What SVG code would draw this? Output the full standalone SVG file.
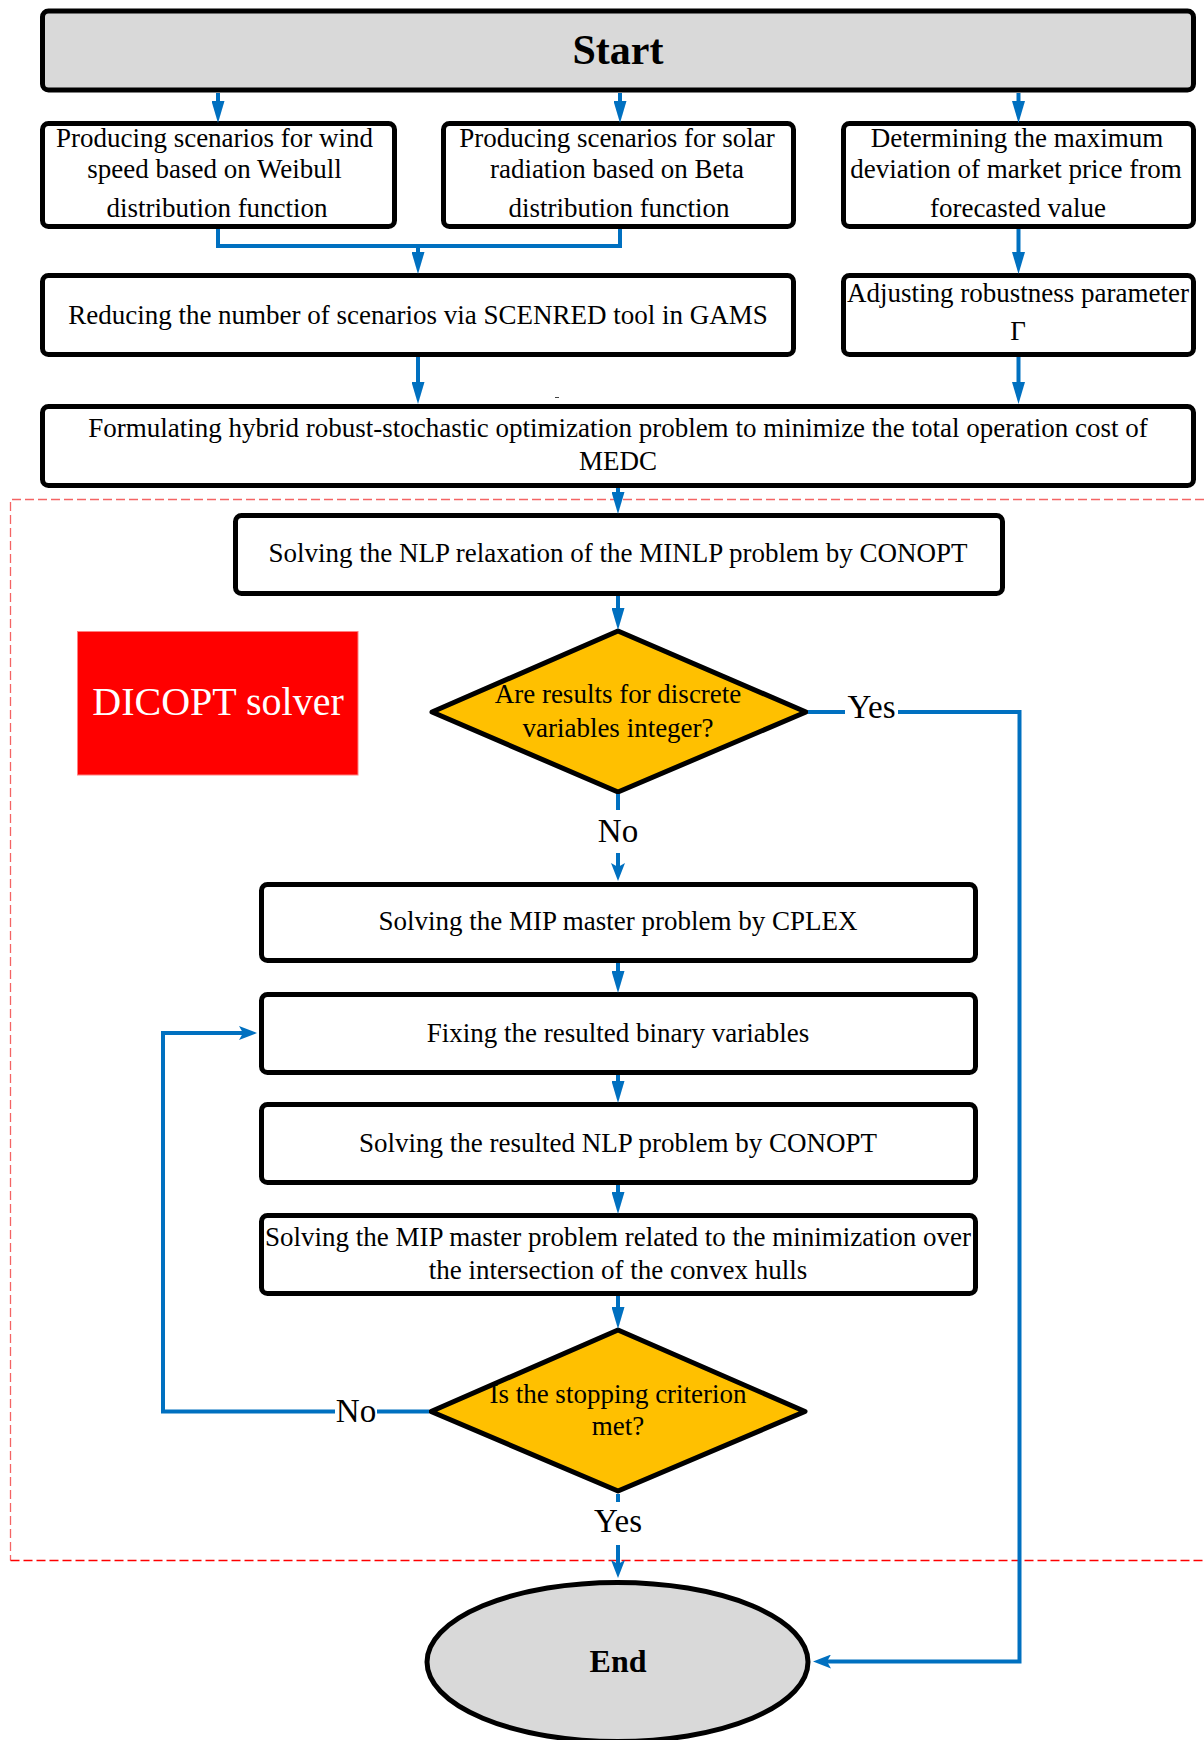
<svg xmlns="http://www.w3.org/2000/svg" width="1204" height="1740" viewBox="0 0 1204 1740">
<style>
text{font-family:"Liberation Serif","Times New Roman",serif;fill:#000}
.t{font-size:27px;text-anchor:middle}
.lbl{font-size:33px;text-anchor:middle}
.box{fill:#fff;stroke:#000;stroke-width:5}
.dia{fill:#FFC000;stroke:#000;stroke-width:5;stroke-linejoin:round}
.c{fill:none;stroke:#0070C0;stroke-width:4}
.ca{fill:none;stroke:#0070C0;stroke-width:4;marker-end:url(#ah)}
.cb{fill:none;stroke:#0070C0;stroke-width:4;marker-end:url(#ah2)}
.dash{fill:none;stroke-width:1.3;stroke-dasharray:9 4}
</style>
<defs>
<marker id="ah" markerUnits="userSpaceOnUse" viewBox="0 0 22 13" markerWidth="22" markerHeight="13" refX="9" refY="6.5" orient="auto">
<path d="M0,0 L22,6.5 L0,13 Z" fill="#0070C0"/>
</marker>
<marker id="ah2" markerUnits="userSpaceOnUse" viewBox="0 0 18 14" markerWidth="18" markerHeight="14" refX="6" refY="7" orient="auto">
<path d="M0,0 L18,7 L0,14 L4,7 Z" fill="#0070C0"/>
</marker>
</defs>

<g id="dicopt-region">
<path class="dash" d="M1204,499.5 H10.5 V1560.5" stroke="#F46464"/>
<path class="dash" d="M10.5,1560.5 H1204" stroke="#FF0000"/>
</g>

<g id="start">
<rect class="box" x="42.5" y="11" width="1151" height="79" rx="6" style="fill:#D9D9D9"/>
<text x="618" y="64" style="font-size:42px;font-weight:bold;text-anchor:middle">Start</text>
</g>

<g id="wind">
<rect class="box" x="42.5" y="123.5" width="352" height="103" rx="6"/>
<text class="t" x="214.5" y="147">Producing scenarios for wind</text>
<text class="t" x="214.5" y="178">speed based on Weibull</text>
<text class="t" x="217" y="217">distribution function</text>
</g>

<g id="solar">
<rect class="box" x="443.5" y="123.5" width="350" height="103" rx="6"/>
<text class="t" x="617" y="147">Producing scenarios for solar</text>
<text class="t" x="617" y="178">radiation based on Beta</text>
<text class="t" x="619" y="217">distribution function</text>
</g>

<g id="market">
<rect class="box" x="843.5" y="123.5" width="350" height="103" rx="6"/>
<text class="t" x="1017" y="147">Determining the maximum</text>
<text class="t" x="1016" y="178">deviation of market price from</text>
<text class="t" x="1018" y="217">forecasted value</text>
</g>

<g id="reducing">
<rect class="box" x="42.5" y="275.5" width="751" height="79" rx="6"/>
<text class="t" x="418" y="324">Reducing the number of scenarios via SCENRED tool in GAMS</text>
</g>

<g id="adjusting">
<rect class="box" x="843.5" y="275.5" width="350" height="79" rx="6"/>
<text class="t" x="1018" y="302">Adjusting robustness parameter</text>
<text class="t" x="1018" y="340">Γ</text>
</g>

<line x1="555" y1="397.5" x2="559" y2="397.5" stroke="#444" stroke-width="1"/>

<g id="formulating">
<rect class="box" x="42.5" y="406.5" width="1151" height="79" rx="6"/>
<text class="t" x="618" y="437">Formulating hybrid robust-stochastic optimization problem to minimize the total operation cost of</text>
<text class="t" x="618" y="470">MEDC</text>
</g>

<g id="nlp-relax">
<rect class="box" x="235.5" y="515.5" width="767" height="78" rx="6"/>
<text class="t" x="618" y="562">Solving the NLP relaxation of the MINLP problem by CONOPT</text>
</g>

<g id="dicopt-label">
<rect x="77.5" y="631.5" width="280.5" height="143.5" fill="#FF0000" stroke="#FF8080" stroke-width="1"/>
<text x="218" y="715" style="font-size:40px;fill:#fff;text-anchor:middle">DICOPT solver</text>
</g>

<g id="decision-integer">
<polygon class="dia" points="618,631 806,712 618,792 432,712"/>
<text class="t" x="618" y="703">Are results for discrete</text>
<text class="t" x="618" y="737">variables integer?</text>
</g>

<g id="mip-cplex">
<rect class="box" x="261.5" y="884.5" width="714" height="76" rx="6"/>
<text class="t" x="618" y="930">Solving the MIP master problem by CPLEX</text>
</g>

<g id="fixing">
<rect class="box" x="261.5" y="994.5" width="714" height="78" rx="6"/>
<text class="t" x="618" y="1042">Fixing the resulted binary variables</text>
</g>

<g id="nlp-conopt">
<rect class="box" x="261.5" y="1104.5" width="714" height="78" rx="6"/>
<text class="t" x="618" y="1152">Solving the resulted NLP problem by CONOPT</text>
</g>

<g id="mip-hull">
<rect class="box" x="261.5" y="1215.5" width="714" height="78" rx="6"/>
<text class="t" x="618" y="1246">Solving the MIP master problem related to the minimization over</text>
<text class="t" x="618" y="1279">the intersection of the convex hulls</text>
</g>

<g id="decision-stop">
<polygon class="dia" points="618,1330 805,1411.5 618,1491 431,1411.5"/>
<text class="t" x="618" y="1403">Is the stopping criterion</text>
<text class="t" x="618" y="1435">met?</text>
</g>

<g id="end">
<ellipse cx="617.5" cy="1662" rx="190.5" ry="79.5" fill="#D9D9D9" stroke="#000" stroke-width="5"/>
<text x="618" y="1672" style="font-size:32px;font-weight:bold;text-anchor:middle">End</text>
</g>

<g id="connectors">
<line class="ca" x1="218" y1="93" x2="218" y2="110"/>
<line class="ca" x1="620" y1="93" x2="620" y2="110"/>
<line class="ca" x1="1018.5" y1="93" x2="1018.5" y2="110"/>
<polyline class="c" points="218,229 218,246 620,246 620,229"/>
<line class="ca" x1="418" y1="246" x2="418" y2="261"/>
<line class="ca" x1="1018.5" y1="229" x2="1018.5" y2="261"/>
<line class="ca" x1="418" y1="357" x2="418" y2="391"/>
<line class="ca" x1="1018.5" y1="357" x2="1018.5" y2="391"/>
<line class="ca" x1="618" y1="488" x2="618" y2="501"/>
<line class="ca" x1="618" y1="596" x2="618" y2="617"/>
<line class="c" x1="618" y1="794" x2="618" y2="810"/>
<text class="lbl" x="618" y="842">No</text>
<line class="cb" x1="618" y1="853" x2="618" y2="869"/>
<line class="c" x1="808" y1="712" x2="845" y2="712"/>
<text class="lbl" x="871.5" y="718">Yes</text>
<polyline class="cb" points="898,712 1019.5,712 1019.5,1661.5 825,1661.5"/>
<line class="ca" x1="618" y1="963" x2="618" y2="980"/>
<line class="ca" x1="618" y1="1075" x2="618" y2="1090"/>
<line class="ca" x1="618" y1="1185" x2="618" y2="1201"/>
<line class="ca" x1="618" y1="1296" x2="618" y2="1316"/>
<line class="c" x1="429" y1="1411.5" x2="377" y2="1411.5"/>
<text class="lbl" x="356" y="1422">No</text>
<polyline class="cb" points="335,1411.5 163,1411.5 163,1033 245,1033"/>
<line class="c" x1="618" y1="1494" x2="618" y2="1502"/>
<text class="lbl" x="618" y="1532">Yes</text>
<line class="cb" x1="618" y1="1545" x2="618" y2="1566"/>
</g>
</svg>
